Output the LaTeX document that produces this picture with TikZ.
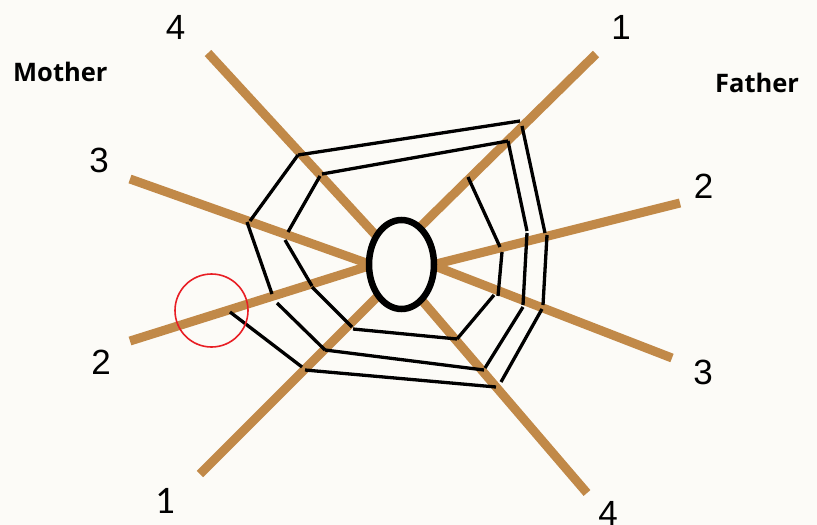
\documentclass[tikz,border=0pt]{standalone}
\usepackage{fontspec}
\setmainfont{Liberation Sans}
\newfontfamily\headfont{Open Sans}
\newfontfamily\onefont{Carlito}
\usetikzlibrary{shapes.geometric}
\definecolor{bgc}{RGB}{252,251,247}
\definecolor{strand}{RGB}{193,137,72}
\definecolor{ringred}{RGB}{232,30,36}
\tikzset{
  spoke/.style={draw=strand, line width=9pt, line cap=butt},
  thread/.style={draw=black, line width=3.3pt, line cap=butt},
  digit/.style={inner sep=0pt, font=\fontsize{35}{40}\selectfont},
  parent/.style={inner sep=0pt, anchor=base west, font=\headfont\bfseries\fontsize{25.5}{30}\selectfont},
}
\begin{document}
\begin{tikzpicture}[x=1pt,y=-1pt]
\fill[bgc] (0,0) rectangle (817,525);
\useasboundingbox (0,0) rectangle (817,525);

% spokes
\coordinate (tlOut) at (208,53);  \coordinate (tlIn) at (381,241);
\coordinate (trOut) at (596,54);  \coordinate (trIn) at (416,231);
\coordinate (lthOut) at (130,179); \coordinate (lthIn) at (372,265);
\coordinate (ltwOut) at (130,341); \coordinate (ltwIn) at (372,265);
\coordinate (rtwOut) at (680,203); \coordinate (rtwIn) at (432,265);
\coordinate (rthOut) at (672,358); \coordinate (rthIn) at (432,265);
\coordinate (blOut) at (200,474); \coordinate (blIn) at (383,291);
\coordinate (brOut) at (587,493); \coordinate (brIn) at (419,297);
\foreach \s in {tl,tr,lth,ltw,rtw,rth,bl,br}{
  \draw[spoke] (\s Out) -- (\s In);
}

% web threads
\draw[thread] (298,155) -- (520,121);
\draw[thread] (322,174) -- (508,141);
\draw[thread] (298,155) -- (250,221);
\draw[thread] (320,176) -- (288,232);
\draw[thread] (247,222) -- (272,294);
\draw[thread] (285,240) -- (312,286);
\draw[thread] (312,287) -- (352,327);
\draw[thread] (277,303) -- (325,350);
\draw[thread] (230,312) -- (302,367);
\draw[thread] (353,329) -- (457,339);
\draw[thread] (325,350) -- (484,370);
\draw[thread] (305,370) -- (496,387);
\draw[thread] (522,126) -- (545,233);
\draw[thread] (508,141) -- (527,231);
\draw[thread] (468,177) -- (500,247);
\draw[thread] (547,235) -- (543,305);
\draw[thread] (527,233) -- (523,305);
\draw[thread] (502,252) -- (498,296);
\draw[thread] (542,309) -- (501,382);
\draw[thread] (523,307) -- (485,368);
\draw[thread] (494,295) -- (457,339);

% centre
\node[ellipse, draw=black, fill=bgc, line width=6.5pt, inner sep=0pt,
      minimum width=65pt, minimum height=89pt] (egg) at (401.5,264.5) {};

% highlight circle
\node[circle, draw=ringred, line width=1.6pt, inner sep=0pt, minimum size=73pt] (mark) at (211.5,310.5) {};

% labels
\node[parent] (mother) at (13,81) {Mother};
\node[parent] (father) at (715,92) {Father};
\node[digit] (mFour) at (175.5,27.5) {4};
\node[digit] (mThree) at (99,160) {3};
\node[digit] (mTwo) at (101,362.5) {2};
\node[inner sep=0pt, font=\onefont\fontsize{39}{44}\selectfont] (mOne) at (165.5,500.5) {1};
\node[digit] (fOne) at (621,27.5) {1};
\node[digit] (fTwo) at (703.5,186) {2};
\node[digit] (fThree) at (703,372) {3};
\node[digit] (fFour) at (608,513) {4};
\end{tikzpicture}
\end{document}
